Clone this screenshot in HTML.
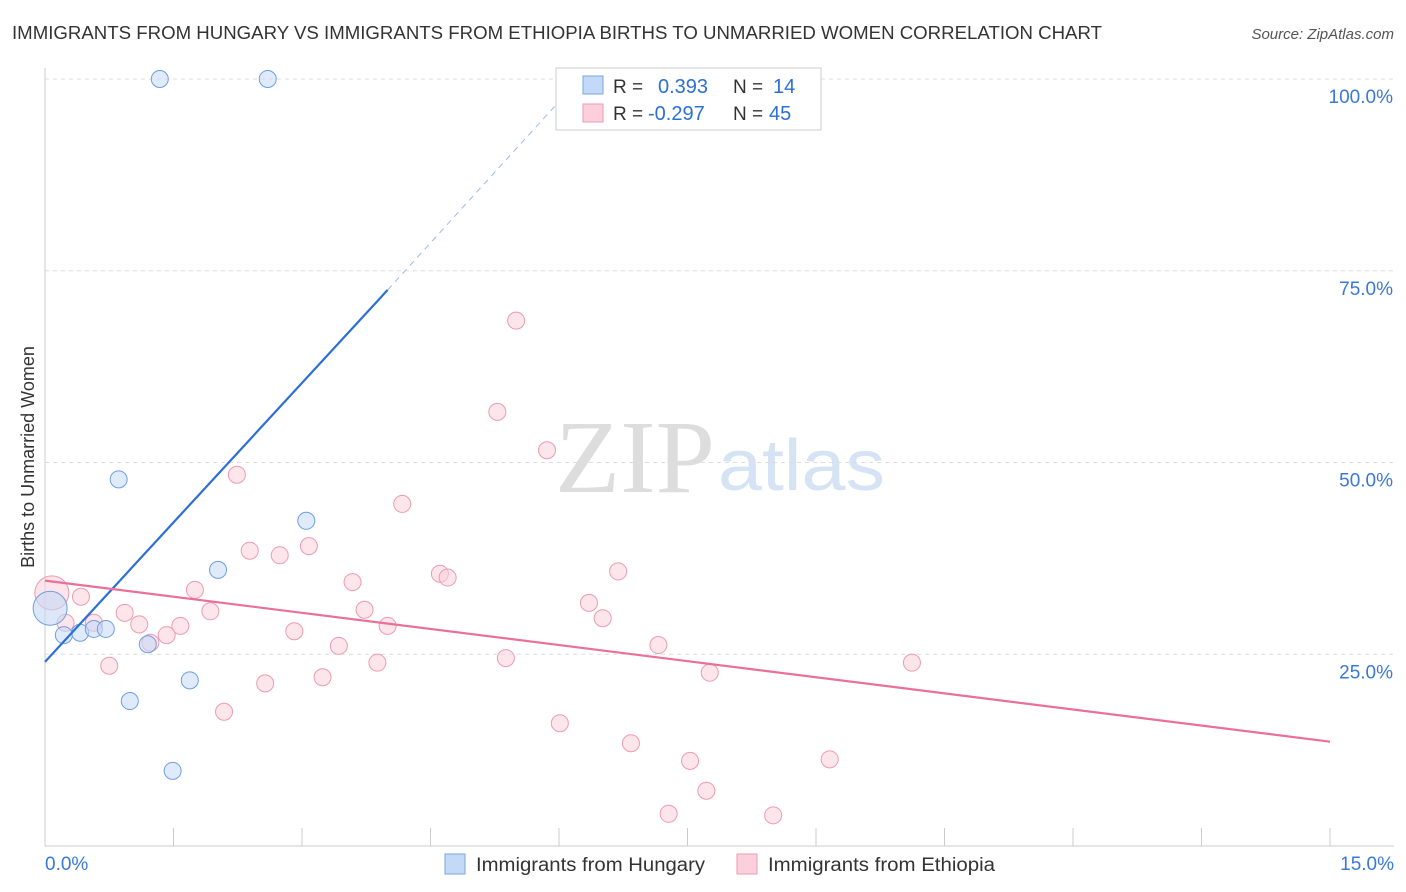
<!DOCTYPE html>
<html><head><meta charset="utf-8"><style>
body{margin:0;background:#fff;font-family:"Liberation Sans",sans-serif}
#wrap{position:relative;width:1406px;height:892px;overflow:hidden}
</style></head><body>
<div id="wrap">
<svg id="svg" width="1406" height="892" xmlns="http://www.w3.org/2000/svg">
<text x="12" y="39" font-size="18" fill="#333" textLength="1090" lengthAdjust="spacingAndGlyphs">IMMIGRANTS FROM HUNGARY VS IMMIGRANTS FROM ETHIOPIA BIRTHS TO UNMARRIED WOMEN CORRELATION CHART</text>
<text x="1394" y="39" font-size="15" fill="#555" font-style="italic" text-anchor="end">Source: ZipAtlas.com</text>
<text x="34" y="457" font-size="18" fill="#333" text-anchor="middle" transform="rotate(-90 34 457)">Births to Unmarried Women</text>
<text x="555" y="492" font-size="104" fill="#ddd" font-family="Liberation Serif" textLength="160" lengthAdjust="spacingAndGlyphs">ZIP</text>
<text x="718" y="490" font-size="72" fill="#d5e3f5" textLength="167" lengthAdjust="spacingAndGlyphs">atlas</text>
<g id="grid"></g><g id="marks"></g>
<g>
<rect x="556" y="68" width="265" height="62" fill="#fff" stroke="#ccc"/>
<rect x="583" y="76" width="20" height="18" fill="#c4d9f7" stroke="#7aa6e0"/>
<rect x="583" y="104" width="20" height="18" fill="#fbd0dc" stroke="#ee9ab3"/>
<text x="613" y="93" font-size="19" fill="#333">R =</text>
<text x="658" y="93" font-size="20" fill="#2c6fd6">0.393</text>
<text x="733" y="93" font-size="19" fill="#333">N =</text>
<text x="773" y="93" font-size="20" fill="#2c6fd6">14</text>
<text x="613" y="120" font-size="19" fill="#333">R =</text>
<text x="648" y="120" font-size="20" fill="#2c6fd6">-0.297</text>
<text x="733" y="120" font-size="19" fill="#333">N =</text>
<text x="769" y="120" font-size="20" fill="#2c6fd6">45</text>
</g>
<g>
<rect x="445" y="854" width="20" height="20" fill="#c4d9f7" stroke="#7aa6e0"/>
<text x="476" y="871" font-size="19" fill="#333" textLength="229" lengthAdjust="spacingAndGlyphs">Immigrants from Hungary</text>
<rect x="737" y="854" width="20" height="20" fill="#fbd0dc" stroke="#ee9ab3"/>
<text x="768" y="871" font-size="19" fill="#333" textLength="227" lengthAdjust="spacingAndGlyphs">Immigrants from Ethiopia</text>
</g>
</svg></div>
<script>
const xTicks=[0,1.5,3,4.5,6,7.5,9,10.5,12,13.5,15];
const yTicks=[25,50,75,100];
const yTickLabels=["25.0%","50.0%","75.0%","100.0%"];
const hungaryX=[1.34,2.60,0.86,3.05,2.02,0.22,0.41,0.57,0.71,1.20,1.69,0.99,1.49,0.06];
const hungaryY=[100,100,47.8,42.4,36.0,27.5,27.8,28.3,28.3,26.3,21.6,18.9,9.8,31.0];
const ethiopiaX=[5.50,5.28,5.86,2.24,4.17,3.08,2.39,2.74,6.69,4.61,4.70,3.59,1.75,0.42,6.35,0.93,3.73,1.93,6.51,1.10,1.58,4.00,0.24,0.57,2.91,1.42,1.23,3.43,7.16,5.38,3.88,10.12,0.75,7.76,3.24,2.57,2.09,6.01,6.84,7.53,9.16,7.72,7.28,8.50,0.08];
const ethiopiaY=[68.5,56.6,51.6,48.4,44.6,39.1,38.5,37.9,35.8,35.5,35.0,34.4,33.4,32.5,31.7,30.4,30.8,30.6,29.7,28.9,28.7,28.7,29.1,29.1,28.0,27.5,26.5,26.1,26.2,24.5,23.9,23.9,23.5,22.6,22.0,21.2,17.5,16.0,13.4,11.1,11.3,7.2,4.2,4.0,33.0];
const hungaryTrend=[[0,24],[4.0,72.5]], hungaryDash=[[4.0,72.5],[6.2,99.5]];
const ethiopiaTrend=[[0,34.6],[15,13.6]];
const X=v=>45+v*(1285/15), Y=v=>846-v*7.67;
const NS="http://www.w3.org/2000/svg";
const grid=document.getElementById('grid'), marks=document.getElementById('marks');
function mk(p,tag,a){const e=document.createElementNS(NS,tag);for(const k in a)e.setAttribute(k,a[k]);p.appendChild(e);return e;}
yTicks.forEach((t,i)=>{
 const l=mk(grid,'line',{x1:45,x2:1394,y1:Y(t),y2:Y(t),stroke:'#ddd','stroke-dasharray':'4 4'});
 
 
 const tx=mk(grid,'text',{x:1393,y:Y(t)+24,'font-size':19,fill:'#3a78d8','text-anchor':'end'});tx.textContent=yTickLabels[i];
 
 
});
const ax=mk(grid,'line',{x1:45,x2:1394,y1:846,y2:846,stroke:'#ccc'});


const ay=mk(grid,'line',{x1:45,x2:45,y1:68,y2:846,stroke:'#ccc'});


xTicks.forEach(t=>{const l=mk(grid,'line',{x1:X(t),x2:X(t),y1:828,y2:846,stroke:'#ccc'});
 
 });
[[0,'0.0%','start',45],[15,'15.0%','end',1394]].forEach(([v,s,a,x])=>{const t=mk(grid,'text',{x:x,y:870,'font-size':19,fill:'#3a78d8','text-anchor':a});t.textContent=s;
 
 });
function pts(xs,ys,fill,stroke,name){xs.forEach((x,i)=>{const big=i===xs.length-1;
 const c=mk(marks,'circle',{cx:X(x),cy:Y(ys[i]),r:big?17:8.5,fill:fill,'fill-opacity':big?0.6:0.55,stroke:stroke,'stroke-width':1});
 
 });}
pts(ethiopiaX,ethiopiaY,'#fbd0dc','#ee9ab3','ethiopia-point');
pts(hungaryX,hungaryY,'#c4d9f7','#6f9fe0','hungary-point');
function line(p,col,dash,name){const l=mk(marks,'line',{x1:X(p[0][0]),y1:Y(p[0][1]),x2:X(p[1][0]),y2:Y(p[1][1]),stroke:col,'stroke-width':dash?1:2.2});
 if(dash)l.setAttribute('stroke-dasharray','6 5');
 
 }
line(hungaryTrend,'#2c6fd6',false,'hungary-trend-line');
line(hungaryDash,'#9bbbe8',true,'hungary-trend-extension');
line(ethiopiaTrend,'#e8709a',false,'ethiopia-trend-line');
</script>
</body></html>
